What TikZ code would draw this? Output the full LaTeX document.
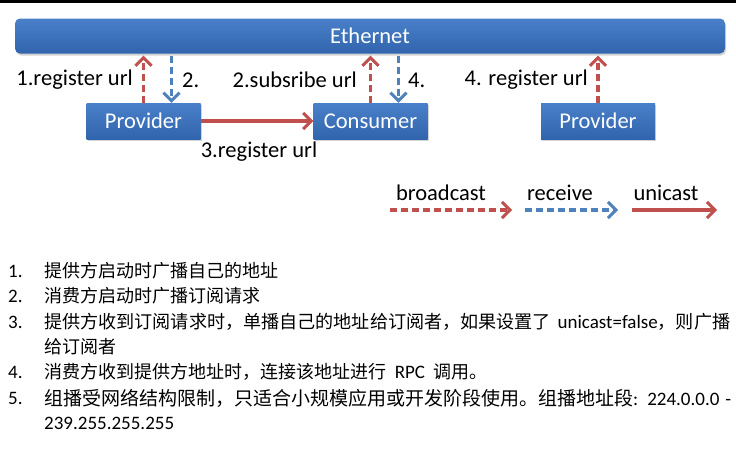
\documentclass[tikz,border=0pt]{standalone}
\usepackage{fontspec}
\setmainfont{Carlito}
\newfontfamily\cjkfont{Noto Sans CJK SC}
\usetikzlibrary{arrows.meta,shadows,positioning}
\definecolor{castred}{HTML}{C0504D}
\definecolor{recvblue}{HTML}{4F81BD}
\definecolor{boxtop}{HTML}{4A80C9}
\definecolor{boxbot}{HTML}{3065AE}
\newcommand\zh[2][18]{{\cjkfont\fontsize{#1}{20}\selectfont #2}}
\tikzset{
  bar/.style={rounded corners=5pt, top color=boxtop, bottom color=boxbot,
    minimum width=710pt, minimum height=35pt, text=white,
    font=\fontsize{22.5}{26}\selectfont,
    drop shadow={opacity=0.35, shadow xshift=1pt, shadow yshift=-2pt}},
  box/.style={top color=boxtop, bottom color=boxbot, minimum width=114pt,
    minimum height=36pt, text=white, font=\fontsize{22.5}{26}\selectfont,
    drop shadow={opacity=0.35, shadow xshift=1pt, shadow yshift=-2pt}},
  lbl/.style={inner sep=0pt, font=\fontsize{22.5}{26}\selectfont},
  bcast/.style={draw=castred, line width=3.2pt, dash pattern=on 7pt off 4pt,
    -{Straight Barb[length=8pt, width=16pt, line width=3pt]}},
  recv/.style={draw=recvblue, line width=3.2pt, dash pattern=on 7pt off 4pt,
    -{Straight Barb[length=8pt, width=16pt, line width=3pt]}},
  ucast/.style={draw=castred, line width=3.4pt,
    -{Straight Barb[length=8pt, width=16pt, line width=3pt]}},
  item/.style={anchor=west, inner sep=0pt, font=\fontsize{19}{21}\selectfont}
}
\begin{document}
\begin{tikzpicture}[x=1pt,y=-1pt]
\useasboundingbox (0,0) rectangle (736,453);
\draw[line width=3pt] (0,1.5) -- (736,1.5);
\node[bar] (eth) at (370,36) {Ethernet};
\node[box] (p1) at (143.5,121) {Provider};
\node[box] (c) at (370.5,121) {Consumer};
\node[box] (p2) at (598,121) {Provider};
\coordinate (p1r) at ([xshift=28pt]p1.north);
\coordinate (cr) at ([xshift=28pt]c.north);
\draw[bcast] (p1.north) to ([yshift=-2pt]p1.north |- eth.south);
\draw[recv] ([yshift=-2pt]p1r |- eth.south) to (p1r);
\draw[bcast] (c.north) to ([yshift=-2pt]c.north |- eth.south);
\draw[recv] ([yshift=-2pt]cr |- eth.south) to (cr);
\draw[bcast] (p2.north) to ([yshift=-2pt]p2.north |- eth.south);
\node[lbl, anchor=east] (l1) at (133,80) {1.register url};
\node[lbl, anchor=west] (l2) at (182,80) {2.};
\node[lbl, anchor=east] (l3) at (357,80) {2.subsribe url};
\node[lbl, anchor=west] (l4) at (408,80) {4.};
\node[lbl, anchor=east] (l5) at (588,80) {4. register url};
\draw[ucast] (p1) to node[lbl, below=19pt, xshift=2pt] {3.register url} (c);
% legend
\coordinate (b0) at (390,210);
\coordinate (b1) at (512,210);
\coordinate (r0) at (525,210);
\coordinate (r1) at (618,210);
\coordinate (u0) at (632,210);
\coordinate (u1) at (717,210);
\node[lbl] (lb) at (441,193) {broadcast};
\node[lbl] (lr) at (560,193) {receive};
\node[lbl] (lu) at (666,193) {unicast};
\draw[bcast] (b0) to (b1);
\draw[recv] (r0) to (r1);
\draw[ucast] (u0) to (u1);
% list
\node[item] (n1) at (8,271) {1.};
\node[item] (t1) at (44,271) {\zh{提供方启动时广播自己的地址}};
\node[item] (n2) at (8,296) {2.};
\node[item] (t2) at (44,296) {\zh{消费方启动时广播订阅请求}};
\node[item] (n3) at (8,322) {3.};
\node[item] (t3) at (44,322) {\makebox[686pt][s]{\zh[18.1]{提供方收到订阅请求时，单播自己的地址给订阅者，如果设置了}\ unicast=false\zh[18.1]{，则广播}}};
\node[item] (t3b) at (44,347) {\zh{给订阅者}};
\node[item] (n4) at (8,372) {4.};
\node[item] (t4) at (44,372) {\zh{消费方收到提供方地址时，连接该地址进行}\ \ RPC\ \ \zh{调用。}};
\node[item] (n5) at (8,398) {5.};
\node[item] (t5) at (44,398) {\makebox[687pt][s]{\zh[19]{组播受网络结构限制，只适合小规模应用或开发阶段使用。组播地址段}: 224.0.0.0 -}};
\node[item] (t5b) at (44,423) {239.255.255.255};
\end{tikzpicture}
\end{document}
